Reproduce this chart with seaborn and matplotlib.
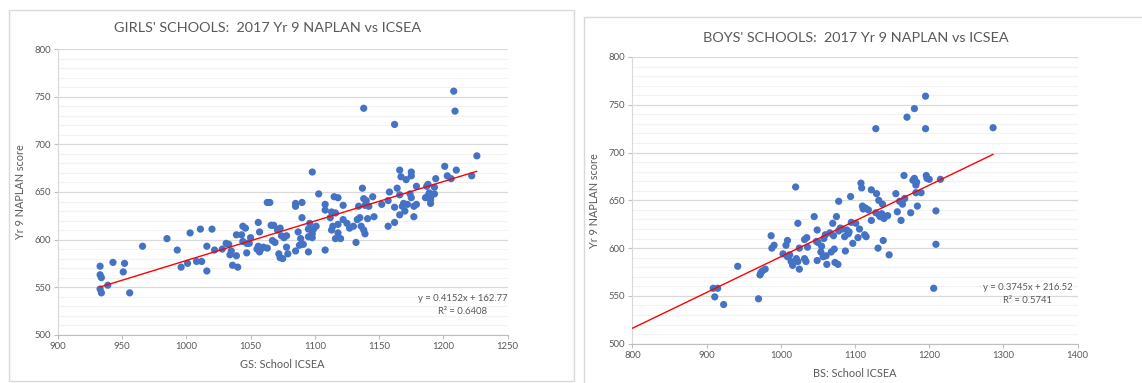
import numpy as np
import pandas as pd
import seaborn as sns
import matplotlib.pyplot as plt
from matplotlib.patches import Rectangle
from matplotlib.ticker import MultipleLocator

# Girls' schools: ICSEA vs Yr 9 NAPLAN
girls_icsea = [933, 933, 934, 933, 934, 939, 943, 951, 952, 956, 966, 985, 993, 996, 1001,
               1003, 1008, 1011, 1012, 1016, 1016, 1020, 1022, 1028, 1031, 1033, 1034, 1035,
               1036, 1039, 1039, 1040, 1043, 1044, 1044, 1046, 1047, 1047, 1049, 1050, 1055,
               1056, 1056, 1057, 1057, 1058, 1060, 1063, 1063, 1065, 1066, 1068, 1067, 1069,
               1071, 1072, 1073, 1073, 1074, 1075, 1076, 1078, 1078, 1079, 1085, 1085, 1085,
               1087, 1088, 1089, 1090, 1090, 1091, 1095, 1095, 1095, 1096, 1098, 1098, 1098,
               1099, 1101, 1103, 1108, 1108, 1108, 1112, 1113, 1113, 1114, 1115, 1116, 1116,
               1118, 1118, 1118, 1120, 1122, 1122, 1125, 1127, 1130, 1132, 1133, 1134, 1135,
               1136, 1137, 1138, 1138, 1138, 1139, 1139, 1140, 1141, 1142, 1145, 1146, 1152,
               1157, 1157, 1158, 1162, 1162, 1162, 1164, 1166, 1166, 1166, 1167, 1168, 1169,
               1170, 1171, 1172, 1174, 1175, 1175, 1175, 1177, 1177, 1179, 1179, 1186, 1187,
               1188, 1188, 1189, 1190, 1190, 1190, 1193, 1193, 1194, 1201, 1203, 1206, 1208,
               1209, 1210, 1222, 1226]
girls_naplan = [572, 563, 560, 548, 544, 552, 576, 566, 575, 544, 593, 601, 589, 571, 575,
                607, 577, 611, 577, 567, 593, 611, 589, 590, 596, 595, 584, 588,
                573, 583, 605, 571, 605, 614, 598, 612, 596, 586, 596, 602, 590,
                618, 593, 608, 587, 590, 592, 591, 639, 639, 615, 615, 599, 597,
                610, 585, 612, 581, 604, 580, 602, 604, 592, 585, 638, 635, 588,
                608, 594, 601, 623, 639, 595, 587, 603, 611, 617, 671, 606, 602,
                611, 614, 648, 637, 631, 589, 623, 629, 610, 614, 645, 628, 601,
                644, 616, 607, 601, 636, 621, 617, 612, 614, 597, 621, 635, 623,
                614, 654, 610, 643, 738, 606, 636, 641, 622, 635, 645, 624, 637,
                641, 614, 650, 721, 634, 618, 654, 673, 647, 626, 666, 635, 638,
                630, 663, 637, 648, 671, 667, 644, 624, 635, 656, 637, 644, 656,
                658, 646, 649, 645, 642, 638, 655, 648, 664, 677, 667, 664, 756,
                735, 673, 667, 688]
girls_fit = (0.4152, 162.77)
girls_r2 = 0.6408

# Boys' schools
boys_icsea = [909, 915, 911, 923, 942, 970, 972, 973, 975, 979, 987, 988, 991, 1003, 1007,
              1009, 1009, 1012, 1014, 1016, 1020, 1021, 1023, 1023, 1025, 1025, 1032, 1032,
              1034, 1035, 1036, 1045, 1048, 1049, 1049, 1055, 1054, 1057, 1060, 1061, 1062,
              1068, 1070, 1071, 1072, 1073, 1075, 1077, 1078, 1078, 1083, 1086, 1087, 1089,
              1091, 1094, 1095, 1097, 1101, 1104, 1106, 1108, 1109, 1110, 1111, 1114, 1113,
              1115, 1122, 1122, 1128, 1129, 1128, 1131, 1132, 1134, 1136, 1137, 1138, 1139,
              1144, 1146, 1155, 1157, 1160, 1162, 1164, 1166, 1167, 1170, 1175, 1178, 1180,
              1180, 1182, 1183, 1182, 1184, 1189, 1195, 1195, 1196, 1197, 1200, 1206, 1209,
              1209, 1215, 1286, 1050, 1058, 1066, 1080, 1092, 1118, 1133]
boys_naplan = [558, 558, 549, 541, 581, 547, 572, 574, 576, 578, 613, 600, 603, 594, 603,
               608, 591, 593, 586, 582, 664, 589, 586, 626, 600, 578, 589, 609,
               586, 611, 601, 633, 607, 619, 587, 602, 596, 591, 614, 592, 583,
               596, 626, 613, 599, 585, 633, 583, 649, 618, 620, 612, 597, 619,
               615, 654, 627, 605, 626, 611, 620, 668, 663, 644, 641, 642, 614,
               612, 661, 629, 725, 657, 637, 600, 650, 633, 636, 646, 608, 631,
               634, 593, 657, 638, 649, 629, 646, 676, 652, 737, 637, 671, 673,
               746, 666, 669, 658, 644, 658, 725, 759, 676, 673, 672, 558, 604,
               639, 672, 726, 606, 610, 616, 621, 617, 640, 634]
boys_fit = (0.3745, 216.52)
boys_r2 = 0.5741

girls = pd.DataFrame({'ICSEA': girls_icsea, 'NAPLAN': girls_naplan})
boys = pd.DataFrame({'ICSEA': boys_icsea, 'NAPLAN': boys_naplan})

sns.set_style('white')
plt.rcParams['font.family'] = ['Lato', 'DejaVu Sans']

text_grey = '#595959'
dot_blue = '#4472C4'

fig = plt.figure(figsize=(11.42, 3.83), dpi=100)

# chart area borders, like the Excel chart frames
W, H = 1142, 383
fig.patches.append(Rectangle((9 / W, 1 - 381 / H), (574 - 9) / W, (381 - 10) / H,
                             transform=fig.transFigure, fill=False, edgecolor='#D9D9D9', lw=1))
fig.patches.append(Rectangle((584 / W, 1 - 400 / H), (1160 - 584) / W, (400 - 17) / H,
                             transform=fig.transFigure, fill=False, edgecolor='#D9D9D9', lw=1))


def draw_panel(ax, df, fit, r2, xlim, xline, xlabel, eq_pos):
    ax.yaxis.set_minor_locator(MultipleLocator(10))
    ax.grid(axis='y', which='minor', color='#F2F2F2', lw=0.8)
    ax.grid(axis='y', which='major', color='#D9D9D9', lw=0.9)
    ax.set_axisbelow(True)
    sns.scatterplot(data=df, x='ICSEA', y='NAPLAN', ax=ax, color=dot_blue,
                    s=27, edgecolor='none', zorder=3)
    # Excel linear trendline
    xs = np.array(xline)
    ax.plot(xs, fit[0] * xs + fit[1], color='#FF0000', lw=1, zorder=4)
    ax.set_xlim(*xlim)
    ax.set_ylim(500, 800)
    ax.xaxis.set_major_locator(MultipleLocator(50 if xlim[1] - xlim[0] < 400 else 100))
    ax.yaxis.set_major_locator(MultipleLocator(50))
    for side in ['top', 'right']:
        ax.spines[side].set_visible(False)
    ax.spines['left'].set_color('#D9D9D9')
    ax.spines['bottom'].set_color('#BFBFBF')
    ax.tick_params(axis='both', which='major', labelsize=6.8, labelcolor=text_grey,
                   color='#BFBFBF', length=3, width=0.8, direction='out', pad=2)
    ax.tick_params(axis='y', which='minor', length=0)
    ax.tick_params(left=True, bottom=True)
    ax.set_xlabel(xlabel, fontsize=7.8, color=text_grey, labelpad=6)
    ax.set_ylabel('Yr 9 NAPLAN score', fontsize=7.8, color=text_grey, labelpad=6)
    ax.text(eq_pos[0], eq_pos[1], f'y = {fit[0]:.4f}x + {fit[1]:.2f}\nR² = {r2:.4f}',
            ha='center', va='center', fontsize=6.8, color=text_grey, linespacing=1.5)


ax1 = fig.add_axes([0.0505, 0.1261, 0.3941, 0.7452])
draw_panel(ax1, girls, girls_fit, girls_r2, (900, 1250),
           [min(girls_icsea), max(girls_icsea)], 'GS: School ICSEA', (1215, 531))

ax2 = fig.add_axes([0.5537, 0.1026, 0.3900, 0.7486])
draw_panel(ax2, boys, boys_fit, boys_r2, (800, 1400),
           [800, max(boys_icsea)], 'BS: School ICSEA', (1333, 552))

fig.text(268 / W, 1 - 27.5 / H, "GIRLS' SCHOOLS:  2017 Yr 9 NAPLAN vs ICSEA",
         ha='center', va='center', fontsize=10.4, color=text_grey)
fig.text(855.5 / W, 1 - 38.5 / H, "BOYS' SCHOOLS:  2017 Yr 9 NAPLAN vs ICSEA",
         ha='center', va='center', fontsize=10.4, color=text_grey)

fig.savefig('out.png', dpi=100)
